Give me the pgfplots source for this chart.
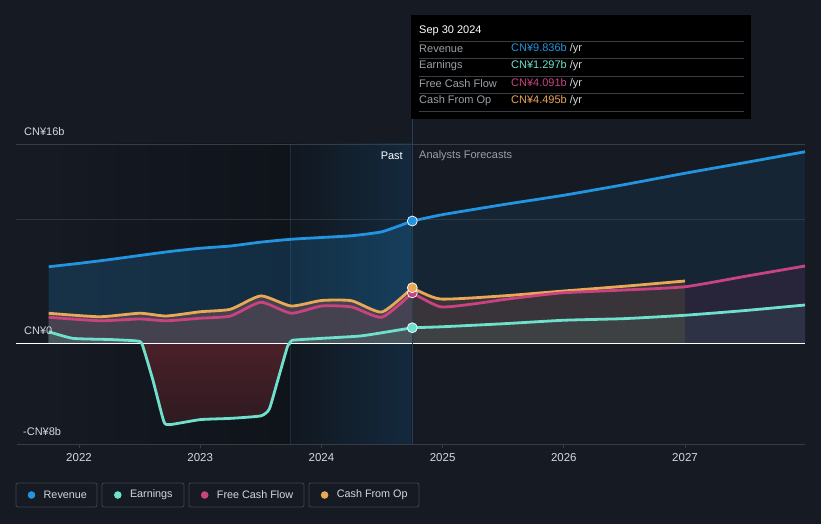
\documentclass[border=0pt]{standalone}
\usepackage{fontspec}
\setmainfont{Liberation Sans}
\usepackage{pgfplots}
\usepackage{pgfplotstable}
\pgfplotsset{compat=1.18}
\definecolor{bg}{HTML}{151A23}
\definecolor{rev}{HTML}{2394DF}
\definecolor{earn}{HTML}{6EE0CC}
\definecolor{fcf}{HTML}{C8437F}
\definecolor{cfo}{HTML}{E8A856}
\definecolor{gridc}{HTML}{363D48}
\definecolor{lbl}{HTML}{D5D8DC}
\definecolor{gry}{HTML}{9AA0A8}
\definecolor{redtop}{HTML}{4A2029}
\definecolor{redbot}{HTML}{2E1A21}
\definecolor{mauve}{HTML}{4A4451}
\definecolor{tealfill}{HTML}{4B585E}
\definecolor{darkpast}{HTML}{0F131A}
\definecolor{bandl}{HTML}{11171F}
\definecolor{bandr}{HTML}{13293D}
\definecolor{bandline}{HTML}{1E2E3E}
\definecolor{vline}{HTML}{283E54}
\definecolor{purplefill}{HTML}{2A243A}
\definecolor{brownfill}{HTML}{3A3539}
\definecolor{sepc}{HTML}{3A3E44}
\definecolor{legbox}{HTML}{3E434E}

\pgfplotstableread{
x y
2021.75 6.18
2022.0 6.45
2022.25 6.75
2022.5 7.08
2022.75 7.40
2023.0 7.66
2023.25 7.84
2023.5 8.15
2023.75 8.38
2024.0 8.52
2024.25 8.66
2024.5 8.98
2024.75 9.84
}\revpast
\pgfplotstableread{
x y
2024.75 9.84
2025.0 10.35
2025.5 11.15
2026.0 11.9
2026.5 12.75
2027.0 13.66
2027.5 14.52
2027.99 15.38
}\revfc
\pgfplotstableread{
x y
2021.75 0.98
2021.95 0.45
2022.25 0.36
2022.47 0.25
2022.52 0.0
2022.61 -2.9
2022.70 -6.2
2022.75 -6.45
2023.0 -6.05
2023.25 -5.95
2023.5 -5.75
2023.57 -5.2
2023.64 -2.9
2023.72 -0.2
2023.736 0.0
2023.76 0.3
2024.0 0.45
2024.32 0.64
2024.55 0.98
2024.75 1.30
}\earnpast
% the same earnings, split at the zero crossings for the fills
\pgfplotstableread{
x y
2021.75 0.98
2021.95 0.45
2022.25 0.36
2022.47 0.25
2022.52 0.0
}\earnposA
\pgfplotstableread{
x y
2022.52 0.0
2022.61 -2.9
2022.70 -6.2
2022.75 -6.45
2023.0 -6.05
2023.25 -5.95
2023.5 -5.75
2023.57 -5.2
2023.64 -2.9
2023.72 -0.2
2023.736 0.0
}\earnneg
\pgfplotstableread{
x y
2023.736 0.0
2023.76 0.3
2024.0 0.45
2024.32 0.64
2024.55 0.98
2024.75 1.30
}\earnposB
\pgfplotstableread{
x y
2024.75 1.30
2025.0 1.38
2025.5 1.62
2026.0 1.9
2026.5 2.03
2027.0 2.30
2027.5 2.68
2027.99 3.12
}\earnfc
\pgfplotstableread{
x y
2021.75 2.14
2022.17 1.86
2022.5 2.0
2022.72 1.86
2023.0 2.06
2023.25 2.24
2023.5 3.34
2023.75 2.46
2024.0 3.04
2024.25 2.96
2024.5 2.14
2024.75 4.09
}\fcfpast
\pgfplotstableread{
x y
2024.75 4.09
2024.98 2.98
2025.25 3.2
2025.5 3.55
2025.75 3.85
2026.0 4.1
2026.5 4.32
2027.0 4.58
2027.5 5.42
2027.99 6.24
}\fcffc
\pgfplotstableread{
x y
2021.75 2.46
2022.17 2.18
2022.5 2.46
2022.72 2.24
2023.0 2.58
2023.25 2.78
2023.5 3.85
2023.75 3.04
2024.0 3.48
2024.25 3.46
2024.5 2.56
2024.75 4.50
}\cfopast
\pgfplotstableread{
x y
2024.75 4.50
2024.98 3.6
2025.5 3.85
2026.0 4.24
2026.5 4.62
2027.0 5.04
}\cfofc

\begin{document}
\begin{tikzpicture}[x=1pt,y=1pt]
\fill[bg] (0,0) rectangle (821,524);
% darker past region and highlighted band
\shade[left color=bg, right color=darkpast] (48,80) rectangle (290,380);
\shade[left color=bandl, right color=bandr] (290,80) rectangle (411,380);
\draw[bandline, line width=0.8pt] (290,80) -- (290,380);

\begin{axis}[at={(17pt,80pt)}, anchor=south west, scale only axis,
  width=788pt, height=300pt,
  xmin=2021.4884, xmax=2027.99, ymin=-8, ymax=16,
  axis y line=none, axis x line*=bottom,
  x axis line style={-, draw=gridc, line width=0.8pt},
  xtick={2022,2023,2024,2025,2026,2027},
  tick align=outside, major tick length=4pt,
  x tick style={draw=gridc, line width=0.8pt},
  x tick label style={font=\fontsize{11.5}{13}\selectfont, text=lbl, /pgf/number format/1000 sep={}, yshift=-2pt},
  /pgf/number format/assume math mode=true,
  ytick=\empty, clip=false]

% revenue fills
\addplot[draw=none, fill=rev, fill opacity=0.2, smooth, tension=0.3] table {\revpast} \closedcycle;
\addplot[draw=none, fill=rev, fill opacity=0.09, smooth, tension=0.3] table {\revfc} \closedcycle;

% CFO / FCF fills
\addplot[draw=none, fill=mauve, fill opacity=0.92, smooth, tension=0.35] table {\cfopast} \closedcycle;
\addplot[draw=none, fill=purplefill, fill opacity=0.9, smooth, tension=0.35] table {\fcffc} \closedcycle;
\addplot[draw=none, fill=brownfill, fill opacity=0.95, smooth, tension=0.35] table {\cfofc} \closedcycle;

% earnings fills
\addplot[draw=none, fill=tealfill, fill opacity=0.95, smooth, tension=0.3] table {\earnposA} \closedcycle;
\addplot[draw=none, fill=tealfill, fill opacity=0.95, smooth, tension=0.3] table {\earnposB} \closedcycle;
\addplot[draw=none, top color=redtop, bottom color=redbot, smooth, tension=0.3] table {\earnneg} \closedcycle;
\addplot[draw=none, fill=earn, fill opacity=0.08, smooth, tension=0.3] table {\earnfc} \closedcycle;

% grid lines
\draw[gridc, line width=0.8pt] (axis cs:2021.48,16) -- (axis cs:2027.99,16);
\draw[gridc, line width=0.8pt, opacity=0.8] (axis cs:2021.48,10) -- (axis cs:2027.99,10);
\draw[white, line width=1pt] (axis cs:2021.48,0) -- (axis cs:2027.99,0);
\draw[vline, line width=1pt] (axis cs:2024.75,-8) -- (axis cs:2024.75,18.4);

% lines
\addplot[rev, line width=2.8pt, smooth, tension=0.3, line join=round] table {\revpast};
\addplot[rev, line width=2.8pt, smooth, tension=0.3, line join=round] table {\revfc};
\addplot[cfo, line width=2.8pt, smooth, tension=0.35, line join=round] table {\cfopast};
\addplot[cfo, line width=2.8pt, smooth, tension=0.35, line join=round] table {\cfofc};
\addplot[fcf, line width=2.8pt, smooth, tension=0.35, line join=round] table {\fcfpast};
\addplot[fcf, line width=2.8pt, smooth, tension=0.35, line join=round] table {\fcffc};
\addplot[earn, line width=2.8pt, smooth, tension=0.3, line join=round] table {\earnpast};
\addplot[earn, line width=2.8pt, smooth, tension=0.3, line join=round] table {\earnfc};

% markers
\addplot[only marks, mark=*, mark size=5pt, mark options={fill=rev, draw=white, line width=0.7pt}] coordinates {(2024.75,9.84)};
\addplot[only marks, mark=*, mark size=5pt, mark options={fill=fcf, draw=white, line width=0.7pt}] coordinates {(2024.75,4.09)};
\addplot[only marks, mark=*, mark size=5pt, mark options={fill=cfo, draw=white, line width=0.7pt}] coordinates {(2024.75,4.50)};
\addplot[only marks, mark=*, mark size=5pt, mark options={fill=earn, draw=white, line width=0.7pt}] coordinates {(2024.75,1.30)};
\end{axis}

% y labels
\node[anchor=west, text=lbl, font=\fontsize{11}{13}\selectfont, inner sep=0pt] at (24,392) {CN¥16b};
\node[anchor=west, text=lbl, font=\fontsize{11}{13}\selectfont, inner sep=0pt] at (24,193) {CN¥0};
\node[anchor=west, text=lbl, font=\fontsize{11}{13}\selectfont, inner sep=0pt] at (23,92) {-CN¥8b};

% Past / Forecast labels
\node[anchor=east, text=white, font=\fontsize{11}{13}\selectfont, inner sep=0pt] at (403,368) {Past};
\node[anchor=west, text=gry, font=\fontsize{11}{13}\selectfont, inner sep=0pt] at (419,368) {Analysts Forecasts};

% tooltip
\fill[black] (411,405) rectangle (751,509);
\node[anchor=west, text=white, font=\fontsize{11}{13}\selectfont, inner sep=0pt] at (419,493) {Sep 30 2024};
\foreach \yy in {483,466,448,431,413} {\draw[sepc, line width=0.7pt] (419,\yy) -- (744,\yy);}
\node[anchor=west, text=gry, font=\fontsize{11}{12}\selectfont, inner sep=0pt] at (419,475) {Revenue};
\node[anchor=west, text=gry, font=\fontsize{11}{12}\selectfont, inner sep=0pt] at (419,458) {Earnings};
\node[anchor=west, text=gry, font=\fontsize{11}{12}\selectfont, inner sep=0pt] at (419,440) {Free Cash Flow};
\node[anchor=west, text=gry, font=\fontsize{11}{12}\selectfont, inner sep=0pt] at (419,423) {Cash From Op};
\node[anchor=west, font=\fontsize{11}{12}\selectfont, inner sep=0pt] at (511,475) {\textcolor{rev}{CN¥9.836b}\textcolor{lbl}{\ /yr}};
\node[anchor=west, font=\fontsize{11}{12}\selectfont, inner sep=0pt] at (511,458) {\textcolor{earn}{CN¥1.297b}\textcolor{lbl}{\ /yr}};
\node[anchor=west, font=\fontsize{11}{12}\selectfont, inner sep=0pt] at (511,440) {\textcolor{fcf}{CN¥4.091b}\textcolor{lbl}{\ /yr}};
\node[anchor=west, font=\fontsize{11}{12}\selectfont, inner sep=0pt] at (511,423) {\textcolor{cfo}{CN¥4.495b}\textcolor{lbl}{\ /yr}};

% legend
\foreach \xa/\xb/\dx/\col/\txt in {16/97/31.5/rev/Revenue, 102/184/117.8/earn/Earnings, 189/304/204.7/fcf/Free Cash Flow, 309/419/324.6/cfo/Cash From Op} {
  \draw[legbox, line width=0.8pt, rounded corners=2pt] (\xa,17) rectangle (\xb,41);
  \fill[\col] (\dx,29) circle (3.8);
  \node[anchor=west, text=lbl, font=\fontsize{10.8}{13}\selectfont, inner sep=0pt] at (\dx+12,29) {\txt};
}
\pgfresetboundingbox
\path (0,0) rectangle (821,524);
\end{tikzpicture}
\end{document}
